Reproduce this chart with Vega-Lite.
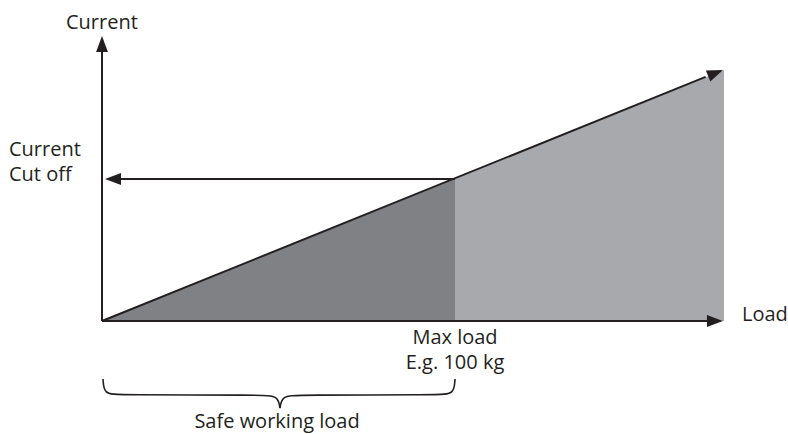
{
  "$schema": "https://vega.github.io/schema/vega-lite/v6.json",
  "width": 788,
  "height": 434,
  "padding": 0,
  "autosize": {"type": "none"},
  "background": "white",
  "config": {"view": {"stroke": null}, "font": "Open Sans"},
  "datasets": {
    "safe": [{"load": 0, "current": 0}, {"load": 100, "current": 100}],
    "over": [{"load": 100, "current": 100}, {"load": 176.2, "current": 176.8}],
    "lines": [
      {"name": "current axis", "x": 0, "y": 0, "x2": 0, "y2": 195},
      {"name": "load axis", "x": 0, "y": 0, "x2": 172, "y2": 0},
      {"name": "current vs load", "x": 0, "y": 0, "x2": 171, "y2": 171.9},
      {"name": "cut off", "x": 100, "y": 100, "x2": 4, "y2": 100}
    ],
    "arrows": [
      {"name": "current axis", "x": 0, "y": 200.7, "dir": -90},
      {"name": "load axis", "x": 175.9, "y": 0, "dir": 0},
      {"name": "current vs load", "x": 175.9, "y": 176.8, "dir": -22},
      {"name": "cut off", "x": 0.85, "y": 100, "dir": 180}
    ],
    "leftLabels": [
      {"label": ["Current"], "x": -10.2, "y": 205.85},
      {"label": ["Current", "Cut off"], "x": -26.35, "y": 116.5},
      {"label": ["Load"], "x": 181.3, "y": 0}
    ],
    "centerLabels": [
      {"label": ["Max load", "E.g. 100 kg"], "x": 100, "y": -16.5},
      {"label": ["Safe working load"], "x": 49.58, "y": -75.4}
    ],
    "brace": [
      {"part": "left", "o": 1, "x": 0.28, "y": -40.8},
      {"part": "left", "o": 2, "x": 0.57, "y": -51.4},
      {"part": "left", "o": 3, "x": 4.53, "y": -52.1},
      {"part": "left", "o": 4, "x": 45.6, "y": -52.1},
      {"part": "left", "o": 5, "x": 49.86, "y": -52.8},
      {"part": "left", "o": 6, "x": 50.42, "y": -61.3},
      {"part": "right", "o": 1, "x": 50.42, "y": -61.3},
      {"part": "right", "o": 2, "x": 50.99, "y": -52.8},
      {"part": "right", "o": 3, "x": 55.24, "y": -52.1},
      {"part": "right", "o": 4, "x": 95.75, "y": -52.1},
      {"part": "right", "o": 5, "x": 99.72, "y": -51.4},
      {"part": "right", "o": 6, "x": 100, "y": -40.8}
    ]
  },
  "layer": [
    {
      "data": {"name": "safe"},
      "mark": {"type": "area", "color": "#808184", "opacity": 1},
      "encoding": {
        "x": {"field": "load", "type": "quantitative", "scale": {"domain": [-28.895, 194.334], "nice": false, "zero": false}, "axis": null},
        "y": {"field": "current", "type": "quantitative", "scale": {"domain": [-79.58, 226.06], "nice": false, "zero": false}, "axis": null},
        "y2": {"datum": 0}
      }
    },
    {
      "data": {"name": "over"},
      "mark": {"type": "area", "color": "#a7a9ac", "opacity": 1},
      "encoding": {
        "x": {"field": "load", "type": "quantitative"},
        "y": {"field": "current", "type": "quantitative"},
        "y2": {"datum": 0}
      }
    },
    {
      "data": {"name": "lines"},
      "mark": {"type": "rule", "color": "#231f20", "strokeWidth": 2},
      "encoding": {
        "x": {"field": "x", "type": "quantitative"},
        "y": {"field": "y", "type": "quantitative"},
        "x2": {"field": "x2"},
        "y2": {"field": "y2"}
      }
    },
    {
      "data": {"name": "arrows"},
      "mark": {"type": "point", "filled": true, "color": "#231f20", "opacity": 1, "strokeWidth": 0, "size": 1024, "shape": "M0,0L-1,-0.37L-1,0.37Z"},
      "encoding": {
        "x": {"field": "x", "type": "quantitative"},
        "y": {"field": "y", "type": "quantitative"},
        "angle": {"field": "dir", "type": "quantitative", "scale": null}
      }
    },
    {
      "data": {"name": "brace"},
      "mark": {"type": "line", "color": "#231f20", "strokeWidth": 1.6, "interpolate": "basis"},
      "encoding": {
        "x": {"field": "x", "type": "quantitative"},
        "y": {"field": "y", "type": "quantitative"},
        "detail": {"field": "part"},
        "order": {"field": "o", "type": "quantitative"}
      }
    },
    {
      "data": {"name": "leftLabels"},
      "mark": {"type": "text", "align": "left", "baseline": "alphabetic", "fontSize": 20, "lineHeight": 25, "color": "#231f20"},
      "encoding": {
        "x": {"field": "x", "type": "quantitative"},
        "y": {"field": "y", "type": "quantitative"},
        "text": {"field": "label"}
      }
    },
    {
      "data": {"name": "centerLabels"},
      "mark": {"type": "text", "align": "center", "baseline": "alphabetic", "fontSize": 20, "lineHeight": 25, "color": "#231f20"},
      "encoding": {
        "x": {"field": "x", "type": "quantitative"},
        "y": {"field": "y", "type": "quantitative"},
        "text": {"field": "label"}
      }
    }
  ]
}
